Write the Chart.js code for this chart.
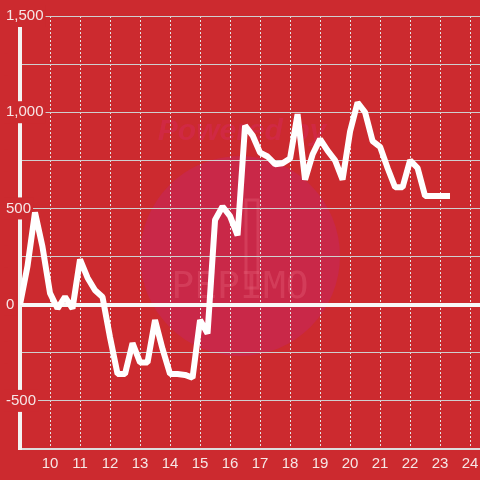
<!DOCTYPE html>
<html>
<head>
<meta charset="utf-8">
<script src="https://cdn.jsdelivr.net/npm/chart.js@4/dist/chart.umd.min.js"></script>
<style>
  html, body { margin: 0; padding: 0; background: #cc2a2f; }
  #wrap { width: 480px; height: 480px; }
</style>
</head>
<body>
<div id="wrap"><canvas id="chart"></canvas></div>
<script>
// hour of day (quarter hours) and value
const hours = [
    9, 9.25, 9.5, 9.75, 10, 10.25, 10.5, 10.75, 11, 11.25, 11.5, 11.75,
    12, 12.25, 12.5, 12.75, 13, 13.25, 13.5, 13.75, 14, 14.25, 14.5, 14.75,
    15, 15.25, 15.5, 15.75, 16, 16.25, 16.5, 16.75, 17, 17.25, 17.5, 17.75,
    18, 18.25, 18.5, 18.75, 19, 19.25, 19.5, 19.75, 20, 20.25, 20.5, 20.75,
    21, 21.25, 21.5, 21.75, 22, 22.25, 22.5, 22.75, 23, 23.33
];
const values = [
    0, 200, 480, 300, 60, -20, 40, -20, 235, 140, 75, 40,
    -170, -360, -360, -200, -300, -300, -80, -230, -360, -360, -365, -380,
    -80, -150, 440, 510, 460, 360, 930, 880, 790, 770, 730, 735,
    760, 990, 650, 780, 860, 800, 750, 650, 900, 1050, 1000, 850,
    820, 710, 610, 610, 750, 710, 565, 565, 565, 565
];
const xTicks = [10, 11, 12, 13, 14, 15, 16, 17, 18, 19, 20, 21, 22, 23, 24];
const yLabelled = [-500, 0, 500, 1000, 1500];

const bg = '#cc2a2f';
const labelColor = '#f6e6e6';

// faint "Powered by PEPIMO" watermark behind the chart
const watermark = {
    id: 'watermark',
    beforeDraw(chart) {
        const ctx = chart.ctx;
        ctx.save();
        ctx.fillStyle = '#c92848';
        ctx.beginPath();
        ctx.arc(240, 256, 100, 0, Math.PI * 2);
        ctx.fill();
        ctx.fillStyle = 'rgba(212, 40, 84, 0.55)';
        ctx.font = 'italic bold 30px "Liberation Sans"';
        ctx.textAlign = 'center';
        ctx.textBaseline = 'middle';
        ctx.fillText('Powered by', 242, 132);
        ctx.strokeStyle = 'rgba(235, 110, 130, 0.3)';
        ctx.lineWidth = 3;
        ctx.strokeRect(246, 200, 12, 88);
        ctx.fillStyle = 'rgba(235, 110, 130, 0.3)';
        ctx.font = '38px "DejaVu Sans Mono"';
        ctx.fillText('PEPIMO', 240, 288);
        ctx.restore();
    }
};

const ctx = document.getElementById('chart').getContext('2d');

const myChart = new Chart(ctx, {
    type: 'line',
    data: {
        datasets: [{
            data: hours.map((h, i) => ({ x: h, y: values[i] })),
            borderColor: '#ffffff',
            borderWidth: 6,
            borderJoinStyle: 'bevel',
            pointRadius: 0,
            tension: 0,
            fill: false,
        }],
    },
    options: {
        responsive: true,
        maintainAspectRatio: false,
        animation: false,
        layout: {
            padding: { left: 20, top: 16, right: 0, bottom: 1 }
        },
        scales: {
            x: {
                type: 'linear',
                min: 9,
                max: 24.33,
                afterFit: (scale) => { scale.paddingLeft = 0; scale.paddingRight = 0; },
                grid: {
                    color: '#e4e4e4',
                    lineWidth: 1,
                    drawTicks: false,
                },
                border: {
                    display: true,
                    color: '#dddddd',
                    width: 2,
                    dash: [2, 2],
                },
                ticks: {
                    stepSize: 1,
                    includeBounds: false,
                    maxRotation: 0,
                    autoSkip: false,
                    padding: 6,
                    color: labelColor,
                    font: { family: 'Liberation Sans', size: 15 },
                    callback: (v) => xTicks.includes(v) ? String(v) : '',
                },
            },
            y: {
                min: -750,
                max: 1500,
                afterFit: (scale) => { scale.width = 0; },
                grid: {
                    color: (c) => c.tick && c.tick.value === 0 ? '#f8f8f8' : '#cfcfcf',
                    lineWidth: (c) => c.tick && c.tick.value === 0 ? 4 : 1,
                    drawTicks: false,
                },
                border: {
                    display: true,
                    color: '#f4f4f4',
                    width: 4,
                },
                ticks: {
                    stepSize: 250,
                    mirror: true,
                    padding: -14,
                    color: labelColor,
                    font: { family: 'Liberation Sans', size: 15 },
                    showLabelBackdrop: true,
                    backdropColor: bg,
                    backdropPadding: 2,
                    callback: (v) => yLabelled.includes(v) ? v.toLocaleString('en-US') : '',
                },
            },
        },
        plugins: {
            legend: { display: false },
            title: { display: false },
            tooltip: { enabled: false },
        },
    },
    plugins: [watermark],
});
</script>
</body>
</html>
